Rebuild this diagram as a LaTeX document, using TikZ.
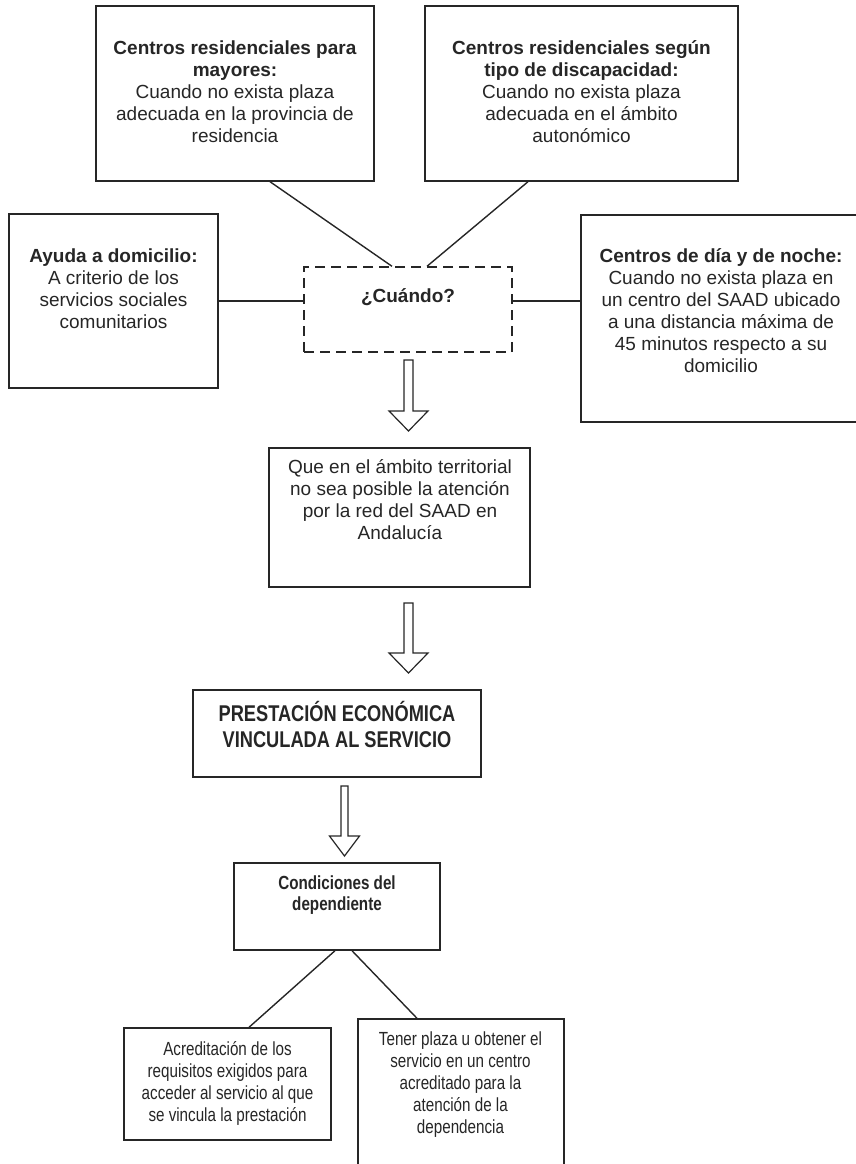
\documentclass[tikz,border=0pt]{standalone}
\usepackage{fontspec}
\setmainfont{Liberation Sans}
\newfontfamily\narrowfont[FakeStretch=0.80]{Liberation Sans}
\usetikzlibrary{calc}
\definecolor{ink}{RGB}{38,38,38}
\begin{document}
\begin{tikzpicture}[x=1pt,y=-1pt,
  box/.style={draw=ink, line width=1.4pt, rectangle, inner sep=0pt},
  qbox/.style={box, dash pattern=on 10pt off 6pt},
  link/.style={draw=ink, line width=1.4pt},
  txt/.style={anchor=base, inner sep=0pt, text=ink},
  hollow/.style={draw=ink, line width=1.2pt, fill=white, line join=miter},
  pics/harrow/.style n args={4}{code={%
    % #1 length, #2 shaft half width, #3 head half width, #4 head length
    \draw[hollow] (-#2,0) -- (#2,0) -- (#2,#1-#4) -- (#3,#1-#4) -- (0,#1)
      -- (-#3,#1-#4) -- (-#2,#1-#4) -- cycle;}}
]
\useasboundingbox (0,0) rectangle (855,1164);

% --- upper boxes
\node[box, minimum width=278pt, minimum height=175pt] (mayores) at (235,93.5) {};
\node[box, minimum width=313pt, minimum height=175pt] (discap) at (581.5,93.5) {};
\node[box, minimum width=209pt, minimum height=174pt] (ayuda) at (113.5,301) {};
\node[box, minimum width=280pt, minimum height=207pt] (dia) at (721,318.5) {};
\node[qbox, minimum width=208pt, minimum height=85pt] (cuando) at (408,309.5) {};

\node[txt] (mayorest) at (235,55) {\parbox[t]{276pt}{\centering\fontsize{19}{22}\selectfont
  \textbf{Centros residenciales para}\\ \textbf{mayores:}\\ Cuando no exista plaza\\ adecuada en la provincia de\\ residencia}};
\node[txt] (discapt) at (581.5,55) {\parbox[t]{310pt}{\centering\fontsize{19}{22}\selectfont
  \textbf{Centros residenciales según}\\ \textbf{tipo de discapacidad:}\\ Cuando no exista plaza\\ adecuada en el ámbito\\ autonómico}};
\node[txt] (ayudat) at (113.5,262) {\parbox[t]{207pt}{\centering\fontsize{19}{22}\selectfont
  \textbf{Ayuda a domicilio:}\\ A criterio de los\\ servicios sociales\\ comunitarios}};
\node[txt] (diat) at (721,262) {\parbox[t]{278pt}{\centering\fontsize{19}{22}\selectfont
  \textbf{Centros de día y de noche:}\\ Cuando no exista plaza en\\ un centro del SAAD ubicado\\ a una distancia máxima de\\ 45 minutos respecto a su\\ domicilio}};
\node[txt] (cuandot) at (408,302) {\fontsize{19}{22}\selectfont\textbf{¿Cuándo?}};

% --- connectors to the question box
\draw[link] ([xshift=35pt]mayores.south) -- ([xshift=-16pt]cuando.north);
\draw[link] ([xshift=-53.5pt]discap.south) -- ([xshift=19pt]cuando.north);
\draw[link] (ayuda.east) -- (ayuda.east -| cuando.west);
\draw[link] (ayuda.east -| cuando.east) -- (ayuda.east -| dia.west);

% --- central column
\pic at (408.5,360) {harrow={71}{4.5}{19.5}{20}};
\node[box, minimum width=261pt, minimum height=139pt] (ambito) at (399.5,517.5) {};
\node[txt] (ambitot) at (400,473) {\parbox[t]{259pt}{\centering\fontsize{19}{22}\selectfont
  Que en el ámbito territorial\\ no sea posible la atención\\ por la red del SAAD en\\ Andalucía}};

\pic at (408.5,603) {harrow={70}{4.5}{19.5}{20}};
\node[box, minimum width=288pt, minimum height=87pt] (pevs) at (337,733.5) {};
\node[txt] (pevst) at (337,721) {\parbox[t]{286pt}{\centering\narrowfont\fontsize{22.8}{26}\selectfont
  \textbf{PRESTACIÓN ECONÓMICA}\\ \textbf{VINCULADA AL SERVICIO}}};

\pic at (344.5,786) {harrow={70}{3.5}{15}{20}};
\node[box, minimum width=206pt, minimum height=87pt] (cond) at (337,906.5) {};
\node[txt] (condt) at (337,889) {\parbox[t]{204pt}{\centering\narrowfont\fontsize{19}{21}\selectfont
  \textbf{Condiciones del}\\ \textbf{dependiente}}};

% --- lower boxes
\node[box, minimum width=207pt, minimum height=112pt] (acred) at (227.5,1084) {};
\node[txt] (acredt) at (227.5,1055) {\parbox[t]{205pt}{\centering\narrowfont\fontsize{19}{22}\selectfont
  Acreditación de los\\ requisitos exigidos para\\ acceder al servicio al que\\ se vincula la prestación}};
\node[box, minimum width=206pt, minimum height=170pt] (plaza) at (461,1104) {};
\node[txt] (plazat) at (460.5,1045) {\parbox[t]{204pt}{\centering\narrowfont\fontsize{19}{22}\selectfont
  Tener plaza u obtener el\\ servicio en un centro\\ acreditado para la\\ atención de la\\ dependencia}};

\draw[link] ([xshift=-2pt]cond.south) -- ([xshift=21.5pt]acred.north);
\draw[link] ([xshift=15pt]cond.south) -- ([xshift=-44pt]plaza.north);
\end{tikzpicture}
\end{document}
